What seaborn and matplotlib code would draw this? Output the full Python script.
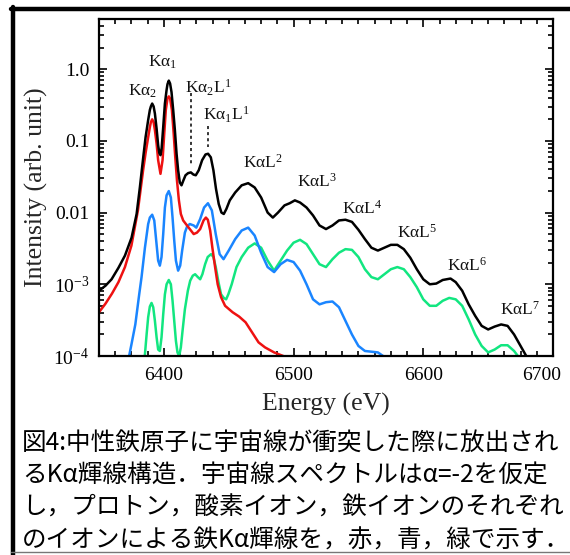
import numpy as np
import pandas as pd
import matplotlib.pyplot as plt
import seaborn as sns
from matplotlib.lines import Line2D
from matplotlib.ticker import LogLocator, MultipleLocator, NullFormatter
from matplotlib.transforms import ScaledTranslation

sns.set_style('ticks')
plt.rcParams['font.family'] = 'Liberation Serif'
plt.rcParams['mathtext.fontset'] = 'custom'
plt.rcParams['mathtext.rm'] = 'Liberation Serif'
plt.rcParams['mathtext.it'] = 'Liberation Serif:italic'
plt.rcParams['mathtext.default'] = 'rm'

# spectra: energy (eV) and log10(intensity)
total_e = [6350, 6355, 6359.7, 6365, 6370, 6375.1, 6379, 6381.5, 6384.1, 6385.9,
           6387.9, 6389.2, 6390, 6391, 6392.1, 6393.1, 6394.4, 6395.6, 6396.5, 6397.4,
           6398.3, 6399.5, 6400.8, 6402.1, 6402.8, 6403.8, 6404.8, 6405.9, 6407.2, 6408.5,
           6409.8, 6411, 6412.3, 6413.6, 6415.1, 6416.7, 6418.7, 6420.8, 6422.8, 6424.6,
           6426.9, 6429.5, 6432.1, 6434.1, 6436.2, 6438.2, 6440.2, 6442.3, 6444.4, 6446.2,
           6448.2, 6450.8, 6455, 6460, 6465, 6470, 6475, 6480, 6484, 6488,
           6493, 6497, 6501,
           6505, 6510, 6515, 6520, 6525, 6530, 6535, 6540, 6545, 6550,
           6555, 6560, 6565, 6570, 6575, 6580, 6585, 6590, 6595, 6600,
           6605, 6610, 6615, 6621, 6625, 6630, 6635, 6640, 6645, 6650,
           6655, 6660, 6665, 6670, 6675, 6680, 6685]
total_log = [-3.09, -3.02, -2.93, -2.77, -2.60, -2.35, -2.02, -1.65, -1.23, -0.95,
             -0.71, -0.57, -0.52, -0.48, -0.52, -0.62, -0.83, -1.06, -1.17, -1.20,
             -1.10, -0.81, -0.48, -0.29, -0.21, -0.16, -0.20, -0.32, -0.57, -0.85,
             -1.18, -1.41, -1.58, -1.62, -1.55, -1.48, -1.45, -1.44, -1.47, -1.48,
             -1.41, -1.27, -1.19, -1.18, -1.23, -1.41, -1.67, -1.88, -2.00, -2.02,
             -1.95, -1.83, -1.72, -1.62, -1.59, -1.65, -1.79, -2.00, -2.07, -2.00,
             -1.90, -1.87, -1.83,
             -1.86, -1.93, -2.04, -2.18, -2.23, -2.18, -2.11, -2.10, -2.13, -2.24,
             -2.37, -2.49, -2.53, -2.49, -2.45, -2.45, -2.51, -2.63, -2.79, -2.93,
             -3.00, -2.99, -2.94, -2.92, -2.97, -3.09, -3.28, -3.44, -3.58, -3.63,
             -3.59, -3.56, -3.58, -3.70, -3.86, -4.02, -4.20]

proton_e = [6350, 6355, 6360, 6365, 6370, 6375, 6380, 6384, 6386, 6387.9,
            6389.2, 6390, 6391, 6392.1, 6393.1, 6394.4, 6395.6, 6397.4, 6399, 6400.3,
            6401.5, 6402.8, 6403.8, 6404.8, 6406.2, 6407.5, 6408.8, 6410.1, 6411.6, 6413.1,
            6414.9, 6417, 6420, 6423, 6425.5, 6428, 6430.6, 6432.4, 6433.9, 6435.7,
            6437.4, 6439.5, 6441.5, 6444.1, 6447.2, 6453, 6458, 6463, 6468, 6473,
            6478, 6485, 6492, 6500]
proton_log = [-3.39, -3.27, -3.13, -2.97, -2.76, -2.46, -1.97, -1.41, -1.16, -0.95,
              -0.81, -0.74, -0.70, -0.74, -0.85, -1.04, -1.27, -1.46, -1.27, -0.90,
              -0.57, -0.41, -0.38, -0.41, -0.57, -0.88, -1.23, -1.55, -1.83, -2.02,
              -2.11, -2.16, -2.23, -2.30, -2.28, -2.23, -2.11, -2.07, -2.10, -2.25,
              -2.49, -2.76, -3.00, -3.18, -3.30, -3.39, -3.45, -3.53, -3.67, -3.81,
              -3.88, -3.95, -4.00, -4.10]

oxygen_e = [6371, 6375, 6378, 6381, 6382.8, 6385.4, 6387.9, 6389.2, 6391, 6392.6,
            6394.1, 6395.6, 6396.9, 6398.2, 6399.5, 6400.8, 6402.1, 6403.8, 6405.4, 6406.7,
            6408, 6409.3, 6411, 6412.6, 6414.1, 6416.2, 6418, 6420, 6423, 6425,
            6428, 6431, 6434, 6437, 6440, 6443, 6446, 6450, 6455, 6460,
            6465, 6470, 6475, 6480, 6485, 6490, 6495, 6500, 6505, 6510,
            6515, 6520, 6525, 6530, 6535, 6540, 6545, 6550, 6555, 6560,
            6565, 6569, 6573]
oxygen_log = [-4.20, -3.84, -3.56, -3.14, -2.90, -2.49, -2.16, -2.07, -2.03, -2.11,
              -2.39, -2.67, -2.74, -2.62, -2.30, -1.93, -1.76, -1.70, -1.79, -2.07,
              -2.39, -2.67, -2.81, -2.74, -2.53, -2.28, -2.19, -2.16, -2.18, -2.21,
              -2.09, -1.93, -1.87, -1.97, -2.30, -2.58, -2.65, -2.53, -2.37, -2.25,
              -2.21, -2.32, -2.56, -2.76, -2.83, -2.72, -2.66, -2.69, -2.81, -3.00,
              -3.21, -3.28, -3.25, -3.24, -3.32, -3.51, -3.70, -3.86, -3.93, -3.94,
              -3.95, -4.00, -4.10]

iron_e = [6384.5, 6385.4, 6386.7, 6387.9, 6389.2, 6390.5, 6391.8, 6393.1, 6394.4, 6395.6,
          6396.9, 6398.2, 6399.5, 6400.8, 6402.1, 6403.8, 6405.4, 6406.7, 6408, 6409.3,
          6410.5, 6411.8, 6413.1, 6414.4, 6416.2, 6418.5, 6420.3, 6422.3, 6424.1, 6426.2,
          6428, 6429.7, 6431.8, 6433.8, 6436.4, 6438.2, 6440, 6442.1, 6444.1, 6446.2,
          6448, 6449.7, 6452.3, 6456, 6460, 6465, 6470, 6475, 6480, 6485,
          6490, 6495,
          6500, 6505, 6510, 6515, 6520, 6525, 6530, 6535, 6540, 6545,
          6550, 6555, 6560, 6565, 6570, 6575, 6580, 6585, 6590, 6595,
          6600, 6605, 6610, 6615, 6620, 6625, 6630, 6635, 6640, 6645,
          6650, 6655, 6660, 6665, 6670, 6675]
iron_log = [-4.10, -3.98, -3.70, -3.46, -3.31, -3.26, -3.32, -3.51, -3.74, -3.91,
            -3.93, -3.74, -3.42, -3.14, -3.00, -2.94, -3.00, -3.23, -3.51, -3.79,
            -3.95, -4.00, -3.88, -3.65, -3.35, -3.09, -2.95, -2.88, -2.86, -2.90,
            -2.93, -2.86, -2.72, -2.62, -2.58, -2.62, -2.76, -2.97, -3.14, -3.19,
            -3.21, -3.14, -3.00, -2.76, -2.62, -2.49, -2.43, -2.49, -2.67, -2.81,
            -2.67, -2.53,
            -2.42, -2.38, -2.44, -2.58, -2.72, -2.76, -2.65, -2.56, -2.51, -2.52,
            -2.62, -2.79, -2.90, -2.93, -2.86, -2.79, -2.76, -2.79, -2.90, -3.04,
            -3.21, -3.30, -3.30, -3.23, -3.19, -3.21, -3.30, -3.49, -3.70, -3.86,
            -3.95, -3.91, -3.85, -3.85, -3.93, -4.05]

# peak labels: text, left x (eV), baseline y
peak_labels = ['K\u03b1$_2$', 'K\u03b1$_1$', 'K\u03b1$_2$L$^1$', 'K\u03b1$_1$L$^1$',
               'K\u03b1L$^2$', 'K\u03b1L$^3$', 'K\u03b1L$^4$', 'K\u03b1L$^5$', 'K\u03b1L$^6$', 'K\u03b1L$^7$']
label_x = [6372.3, 6387.7, 6416.2, 6430, 6460.8, 6502.3, 6537.7, 6580, 6618.5, 6659.2]
label_y = [0.433, 1.07, 0.466, 0.194, 0.0417, 0.0231, 0.00968, 0.00447, 0.00155, 3.74e-4]

# dotted guide lines under the satellite labels
guide_x = [6420.8, 6434]
guide_top = [0.46, 0.16]
guide_bottom = [0.048, 0.081]

caption = ['図4:中性鉄原子に宇宙線が衝突した際に放出され',
           'るK\u03b1輝線構造．宇宙線スペクトルは\u03b1=-2を仮定',
           'し，プロトン，酸素イオン，鉄イオンのそれぞれ',
           'のイオンによる鉄K\u03b1輝線を，赤，青，緑で示す．']

frames = []
for name, e, lg in [('total', total_e, total_log), ('proton', proton_e, proton_log),
                    ('oxygen', oxygen_e, oxygen_log), ('iron', iron_e, iron_log)]:
    frames.append(pd.DataFrame({'energy': e, 'intensity': 10 ** np.array(lg), 'ion': name}))
df = pd.concat(frames, ignore_index=True)

palette = {'total': 'black', 'proton': '#ee1111', 'oxygen': '#1a85ff', 'iron': '#12e680'}

fig = plt.figure(figsize=(5.7, 5.55), dpi=100)
ax = fig.add_axes([99 / 570, 1 - 356 / 555, (553 - 99) / 570, (356 - 19) / 555])

sns.lineplot(data=df, x='energy', y='intensity', hue='ion', palette=palette,
             hue_order=['iron', 'oxygen', 'proton', 'total'],
             sort=False, estimator=None, legend=False, linewidth=1.8, ax=ax)

ax.set_yscale('log')
ax.set_xlim(6350, 6700)
ax.set_ylim(1e-4, 5)
ax.set_yticks([1, 0.1, 0.01, 1e-3, 1e-4])
ax.set_yticklabels(['1.0', '0.1', '0.01', '10$^{-3}$', '10$^{-4}$'])
ax.yaxis.set_minor_locator(LogLocator(base=10, subs=np.arange(2, 10)))
ax.yaxis.set_minor_formatter(NullFormatter())
ax.set_xticks([6400, 6500, 6600, 6700])
ax.xaxis.set_minor_locator(MultipleLocator(12.5))

ax.tick_params(which='both', direction='in', top=True, right=True, width=1.2, colors='black')
ax.tick_params(which='major', length=6, labelsize=14)
ax.tick_params(which='minor', length=3.5)
ax.tick_params(axis='y', pad=7)
ax.tick_params(axis='x', pad=8)
for s in ax.spines.values():
    s.set_linewidth(1.6)
    s.set_color('black')

# last x label sits inside the frame, as in the original
last = ax.xaxis.get_major_ticks()[-1].label1
last.set_transform(last.get_transform() + ScaledTranslation(-0.11, 0, fig.dpi_scale_trans))

ax.set_xlabel('Energy (eV)', fontsize=18.5, labelpad=6)
ax.set_ylabel('Intensity (arb. unit)', fontsize=18.5, labelpad=4)

for txt, x, y in zip(peak_labels, label_x, label_y):
    ax.text(x, y, txt, fontsize=12.5, ha='left', va='baseline', color='#111111')
for x, y0, y1 in zip(guide_x, guide_top, guide_bottom):
    ax.plot([x, x], [y0, y1], color='black', linestyle=(0, (2, 2)), linewidth=1.1)

for i, line in enumerate(caption):
    fig.text(22 / 570, 1 - (443 + 32.5 * i) / 555, line, fontsize=17.7, va='center', ha='left',
             family=['Noto Sans CJK JP', 'DejaVu Sans'], color='black')

# outer frame
fig.add_artist(Line2D([13 / 570, 13 / 570], [0, 1 - 7 / 555], transform=fig.transFigure,
                      color='black', linewidth=3.2))
fig.add_artist(Line2D([11 / 570, 1], [1 - 9 / 555, 1 - 9 / 555], transform=fig.transFigure,
                      color='black', linewidth=3.2))
fig.add_artist(Line2D([11 / 570, 1], [1 - 552 / 555, 1 - 552 / 555], transform=fig.transFigure,
                      color='#777777', linewidth=1.0))

fig.savefig('out.png', dpi=100)
